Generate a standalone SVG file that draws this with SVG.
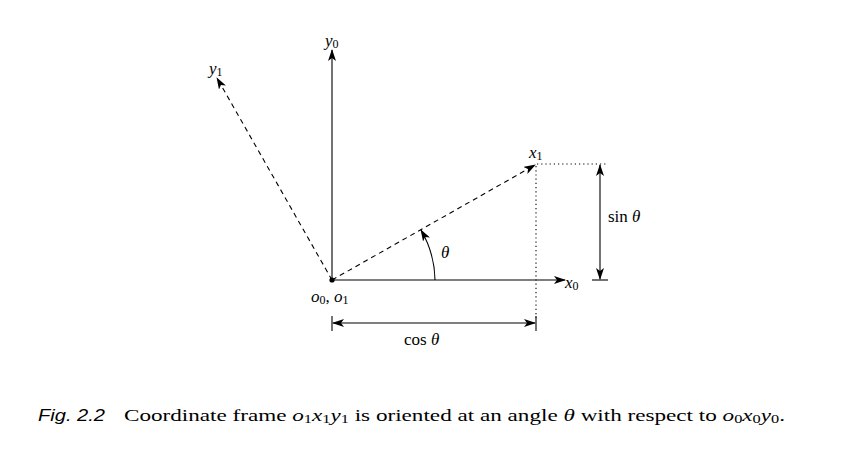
<svg xmlns="http://www.w3.org/2000/svg" width="866" height="465" viewBox="0 0 866 465">
<style>
  .ax { stroke:#000; stroke-width:1.1; fill:none; }
  .dash { stroke:#000; stroke-width:1.1; fill:none; stroke-dasharray:5,4; }
  .dot { stroke:#000; stroke-width:1.1; fill:none; stroke-dasharray:1.2,3; }
  .m { font-family:"Liberation Serif","DejaVu Serif",serif; font-style:italic; font-size:17px; fill:#000; }
  .r { font-family:"Liberation Serif","DejaVu Serif",serif; font-size:17px; fill:#000; }
  .sub { font-size:12px; font-style:normal; }
  .cap { font-family:"Liberation Serif","DejaVu Serif",serif; font-size:17px; fill:#000; }
  .fig { font-family:"Liberation Sans","DejaVu Sans",sans-serif; font-style:italic; font-size:17px; fill:#000; }
</style>
<defs>
  <marker id="ah" viewBox="0 0 12 8" refX="11" refY="4" markerWidth="12" markerHeight="8" markerUnits="userSpaceOnUse" orient="auto-start-reverse">
    <path d="M0,0 L12,4 L0,8 L3,4 Z" fill="#000"/>
  </marker>
</defs>
<g id="connectors">
  <line class="ax" x1="332" y1="280" x2="332" y2="50" marker-end="url(#ah)"/>
  <line class="ax" x1="332" y1="280" x2="565" y2="280" marker-end="url(#ah)"/>
  <line class="dash" x1="332" y1="280" x2="535" y2="165" marker-end="url(#ah)"/>
  <line class="dash" x1="332" y1="280" x2="217" y2="78" marker-end="url(#ah)"/>
  <line class="dot" x1="537" y1="164" x2="607" y2="164"/>
  <line class="dot" x1="536" y1="166" x2="536" y2="318"/>
  <line class="ax" x1="536" y1="316" x2="536" y2="331"/>
  <line class="ax" x1="332" y1="316" x2="332" y2="331"/>
  <line class="ax" x1="333" y1="323" x2="535" y2="323" marker-start="url(#ah)" marker-end="url(#ah)"/>
  <line class="ax" x1="592" y1="280" x2="608" y2="280"/>
  <line class="ax" x1="600" y1="165" x2="600" y2="279" marker-start="url(#ah)" marker-end="url(#ah)"/>
  <path class="ax" d="M435,280 A103,103 0 0 0 421,230" marker-end="url(#ah)"/>
  <circle cx="332" cy="280" r="2.6" fill="#000"/>
</g>
<g id="labels">
  <text class="m" x="325" y="46">y<tspan class="sub" dy="2">0</tspan></text>
  <text class="m" x="209" y="74">y<tspan class="sub" dy="2">1</tspan></text>
  <text class="m" x="529" y="158">x<tspan class="sub" dy="2">1</tspan></text>
  <text class="m" x="565" y="288">x<tspan class="sub" dy="2">0</tspan></text>
  <text class="m" x="441" y="258">θ</text>
  <text class="r" x="608" y="222">sin <tspan font-style="italic">θ</tspan></text>
  <text class="m" x="311" y="302">o<tspan class="sub" dy="2">0</tspan><tspan dy="-2" font-style="normal">, </tspan>o<tspan class="sub" dy="2">1</tspan></text>
  <text class="r" x="404" y="345">cos <tspan font-style="italic">θ</tspan></text>
</g>
<g id="caption">
  <text class="fig" x="38" y="421" textLength="67" lengthAdjust="spacingAndGlyphs">Fig. 2.2</text>
  <text class="cap" x="124" y="421" textLength="661" lengthAdjust="spacingAndGlyphs">Coordinate frame <tspan font-style="italic">o</tspan><tspan font-size="12" dy="2">1</tspan><tspan font-style="italic" dy="-2">x</tspan><tspan font-size="12" dy="2">1</tspan><tspan font-style="italic" dy="-2">y</tspan><tspan font-size="12" dy="2">1</tspan><tspan dy="-2"> is oriented at an angle </tspan><tspan font-style="italic">θ</tspan><tspan> with respect to </tspan><tspan font-style="italic">o</tspan><tspan font-size="12" dy="2">0</tspan><tspan font-style="italic" dy="-2">x</tspan><tspan font-size="12" dy="2">0</tspan><tspan font-style="italic" dy="-2">y</tspan><tspan font-size="12" dy="2">0</tspan><tspan dy="-2">.</tspan></text>
</g>
</svg>
